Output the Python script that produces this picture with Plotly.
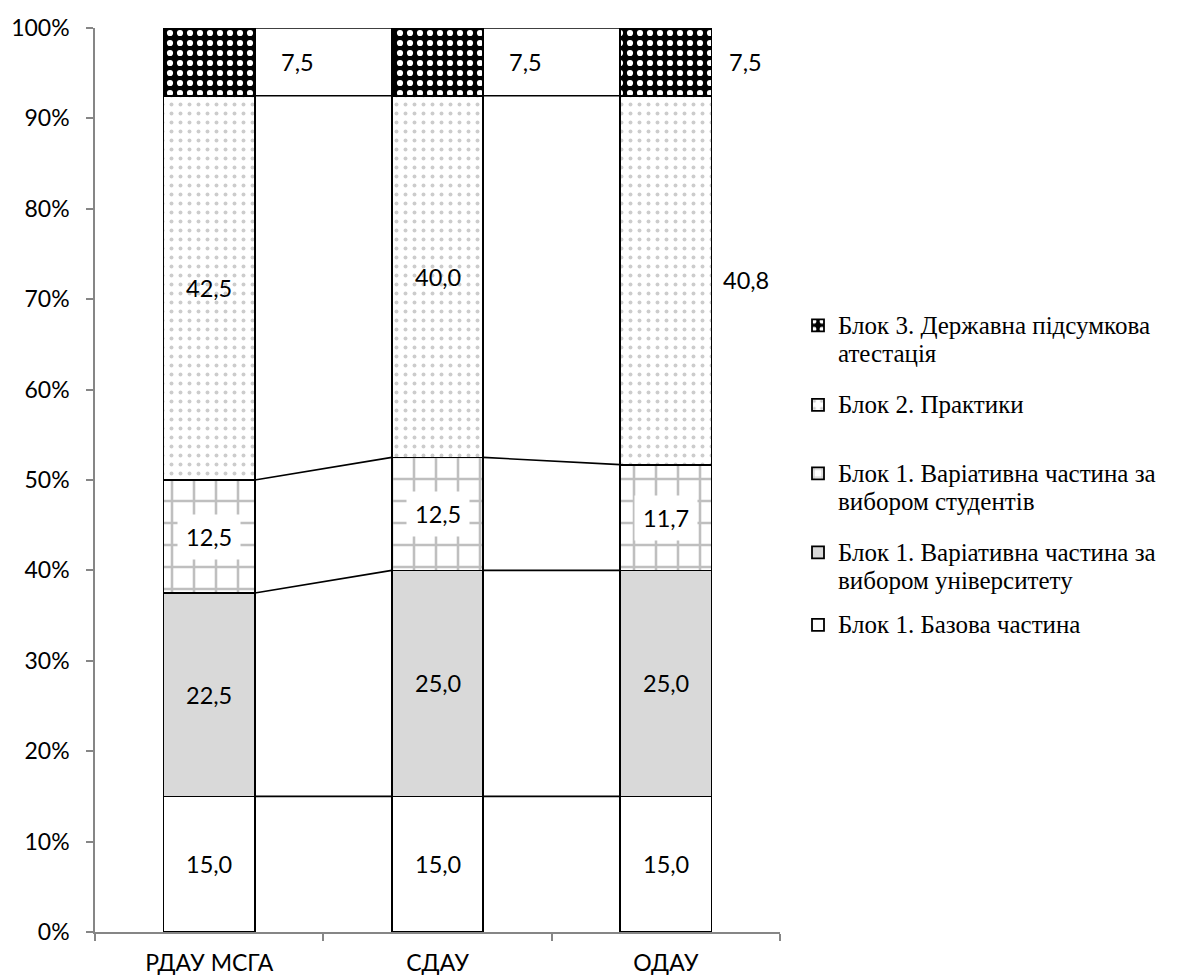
import plotly.graph_objects as go

categories = ["РДАУ МСГА", "СДАУ", "ОДАУ"]
series_names = [
    ["Блок 1. Базова частина"],
    ["Блок 1. Варіативна частина за", "вибором університету"],
    ["Блок 1. Варіативна частина за", "вибором студентів"],
    ["Блок 2. Практики"],
    ["Блок 3. Державна підсумкова", "атестація"],
]
base_part = [15.0, 15.0, 15.0]
univ_choice = [22.5, 25.0, 25.0]
student_choice = [12.5, 12.5, 11.7]
practice = [42.5, 40.0, 40.8]
attestation = [7.5, 7.5, 7.5]
series_values = [base_part, univ_choice, student_choice, practice, attestation]

styles = [
    dict(color="white", pattern=None),
    dict(color="#d9d9d9", pattern=None),
    dict(color="white", pattern=dict(shape="+", fgcolor="#808080", bgcolor="white", size=22, solidity=0.22, fillmode="overlay")),
    dict(color="white", pattern=dict(shape=".", fgcolor="#999999", bgcolor="white", size=9, solidity=0.15, fillmode="overlay")),
    dict(color="black", pattern=dict(shape=".", fgcolor="white", bgcolor="black", size=10, solidity=0.3, fillmode="replace")),
]
legend_ids = ["legend5", "legend4", "legend3", "legend2", "legend"]
legend_centers_px = [625, 567, 488, 405, 340]  # screen px in reference

OFF = 8  # page body margin
L, T = 95 - OFF, 28 - OFF
W, H = 1182 - OFF, 977 - OFF
plot_w, plot_h = 685, 904
R = W - L - plot_w
B = H - T - plot_h

LEG_TXT = 25

def legend_name(lines):
    return "<br>".join(f'<span style="font-size:{LEG_TXT}px">{ln}</span>' for ln in lines)

fig = go.Figure()
x_idx = list(range(len(categories)))
for name, vals, st, lg in zip(series_names, series_values, styles, legend_ids):
    marker = dict(color=st["color"], line=dict(color="black", width=1.8))
    if st["pattern"]:
        marker["pattern"] = st["pattern"]
    fig.add_trace(go.Bar(x=x_idx, y=vals, name=legend_name(name), marker=marker, width=0.4, legend=lg))

# cumulative tops
cum = []
run = [0.0] * len(categories)
for vals in series_values:
    run = [a + b for a, b in zip(run, vals)]
    cum.append(list(run))

# series lines between bars
half = 0.2
for tops in cum:
    for i in range(len(categories) - 1):
        fig.add_trace(go.Scatter(
            x=[i + half, i + 1 - half], y=[tops[i], tops[i + 1]],
            mode="lines", line=dict(color="black", width=1.6),
            showlegend=False, hoverinfo="skip", cliponaxis=False))

def fmt(v):
    return f"{v:.1f}".replace(".", ",")

label_font = dict(family="Lato, Open Sans, sans-serif", size=23.5, color="black")
for s, vals in enumerate(series_values):
    bottoms = [0.0] * len(categories) if s == 0 else cum[s - 1]
    for i, v in enumerate(vals):
        yc = bottoms[i] + v / 2
        ann = dict(x=i, y=yc, text=fmt(v), showarrow=False, font=label_font, xref="x", yref="y")
        if s == 4:
            ann["xshift"] = 88 if i < 2 else 80
        elif s == 3 and i == 2:
            ann["xshift"] = 80
        elif s == 2:
            ann["bgcolor"] = "white"
            ann["borderpad"] = 8
        fig.add_annotation(**ann)

legend_common = dict(
    font=dict(family="Liberation Serif, Times New Roman, serif", size=22, color="black"),
    bgcolor="rgba(0,0,0,0)", borderwidth=0, xanchor="left", yanchor="middle",
    itemwidth=30, valign="top", itemclick=False,
)
layout_legends = {}
for lg, cy in zip(legend_ids, legend_centers_px):
    layout_legends[lg] = dict(legend_common, x=(798 - 95) / plot_w, y=(932 - cy) / plot_h)

boundaries = [i - 0.5 for i in range(len(categories) + 1)]

fig.update_layout(
    width=W, height=H,
    margin=dict(l=L, r=R, t=T, b=B),
    barmode="stack", barnorm="percent",
    plot_bgcolor="white", paper_bgcolor="white",
    showlegend=True,
    **layout_legends,
    xaxis=dict(
        range=[-0.5, 2.5], tickmode="array", tickvals=x_idx, ticktext=categories,
        showline=True, linecolor="#868686", linewidth=1.5, automargin=False,
        ticks="", ticklen=7,
        minor=dict(tickmode="array", tickvals=boundaries, ticks="outside", ticklen=7,
                   tickcolor="#868686", tickwidth=1.5, showgrid=False),
        showgrid=False, zeroline=False, ticklabelstandoff=10,
        tickfont=dict(family="Lato, Open Sans, sans-serif", size=23, color="black"),
    ),
    yaxis=dict(
        range=[0, 100], tickmode="array", tickvals=list(range(0, 101, 10)),
        ticktext=[f"{v}%" for v in range(0, 101, 10)],
        showline=True, linecolor="#868686", linewidth=1.5, automargin=False,
        ticks="outside", ticklen=7, tickcolor="#868686", tickwidth=1.5,
        showgrid=False, zeroline=False, ticklabelstandoff=12,
        tickfont=dict(family="Lato, Open Sans, sans-serif", size=23, color="black"),
    ),
)

fig.write_html("out.html")
